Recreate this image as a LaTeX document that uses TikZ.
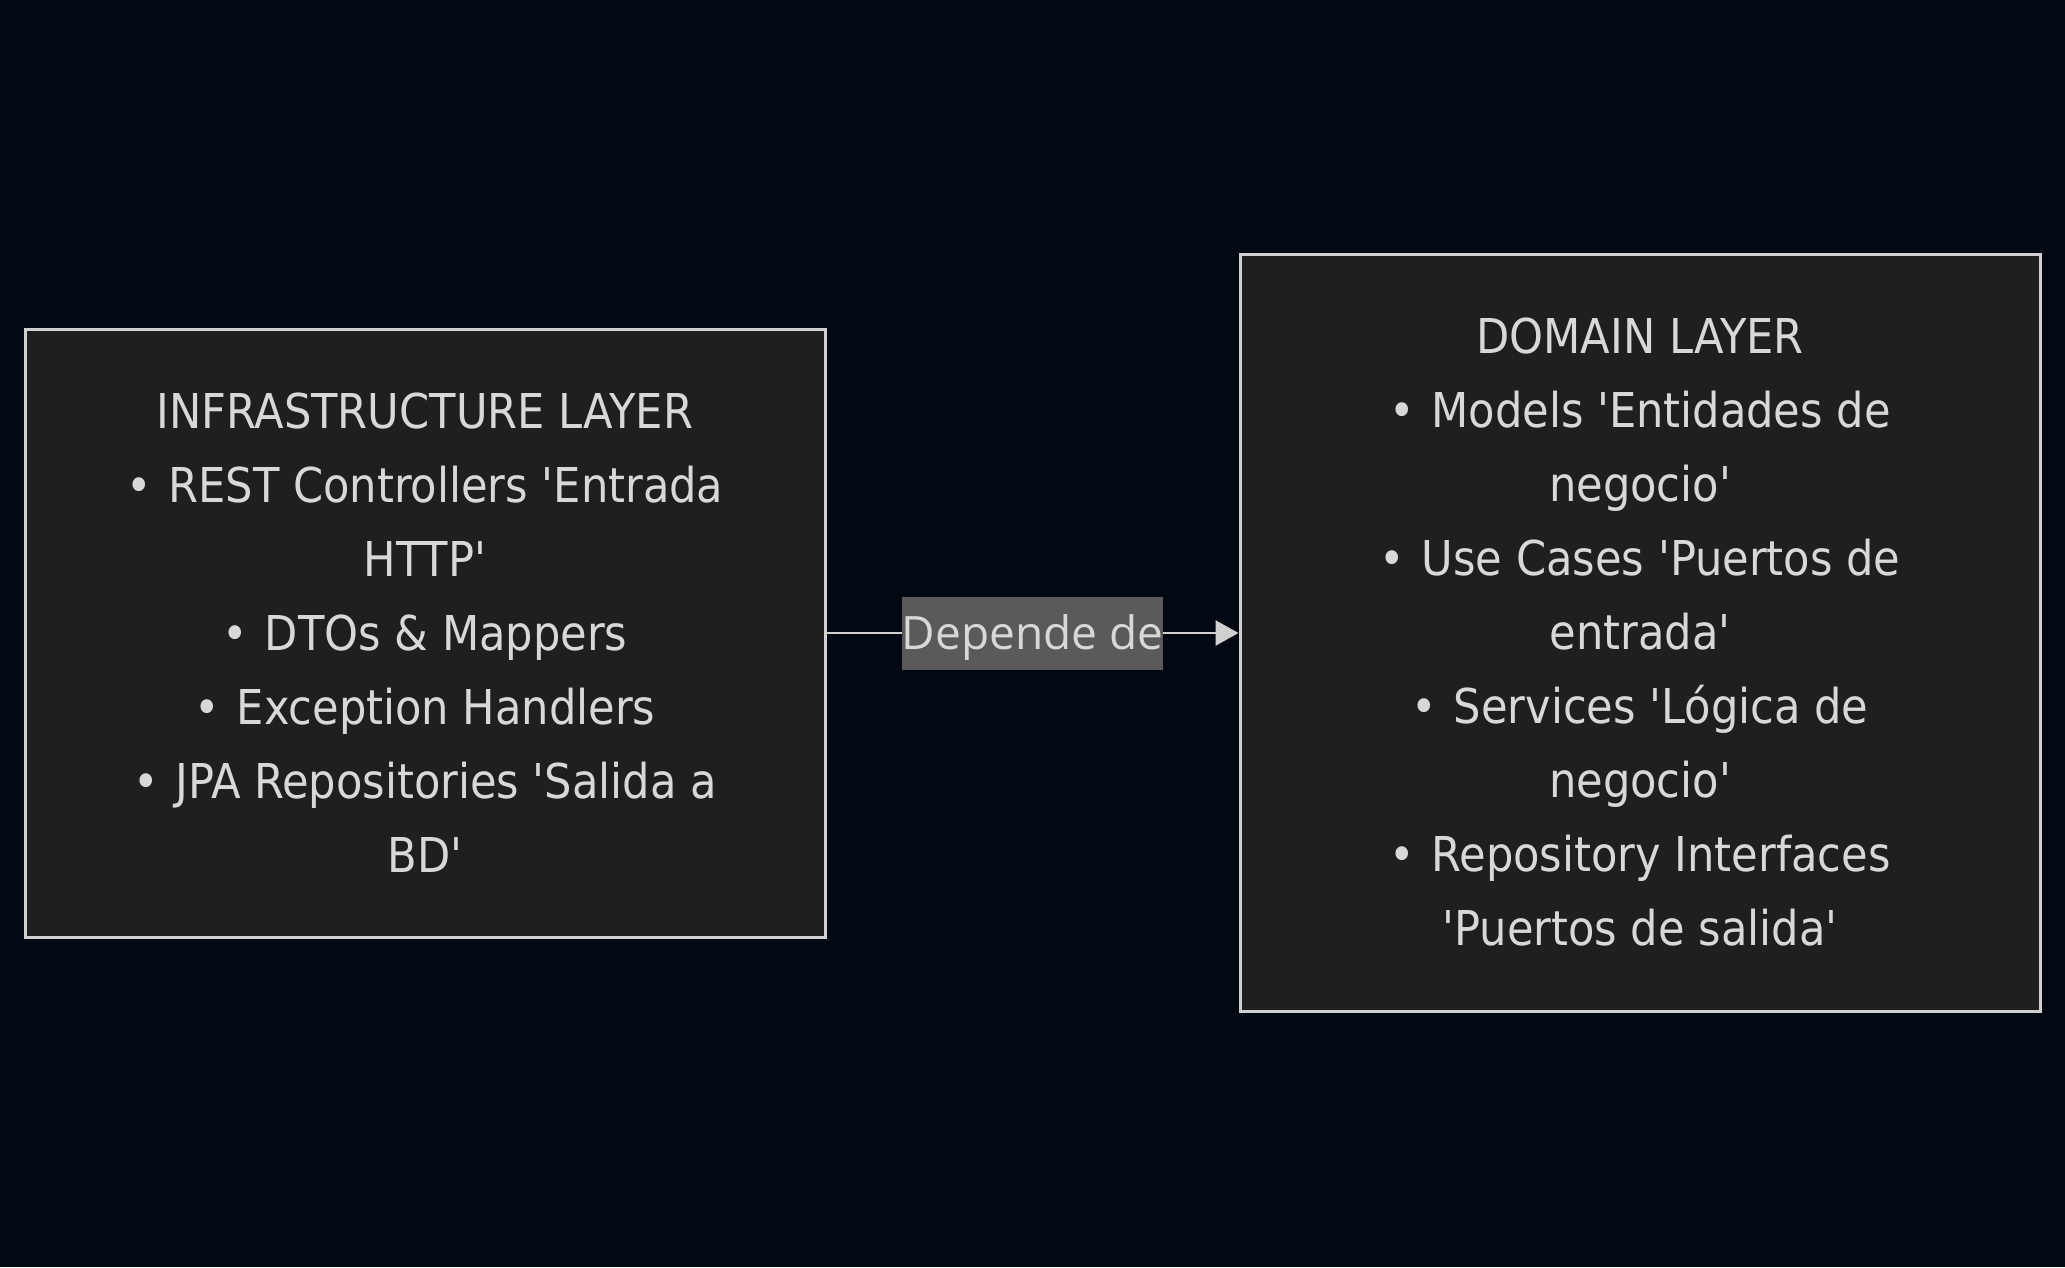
\documentclass[tikz,border=0pt]{standalone}
\usepackage{fontspec}
\usetikzlibrary{arrows.meta}
\newfontfamily\boxfont{DejaVu Sans Condensed}
\newfontfamily\labfont{Open Sans}
\definecolor{bgc}{HTML}{030913}
\definecolor{boxfill}{HTML}{1F1F1F}
\definecolor{bordc}{HTML}{D0D0D0}
\definecolor{txtc}{HTML}{D8D8D8}
\definecolor{labfill}{HTML}{5A5A5A}
\newcommand\sq{\textquotesingle}
\newcommand\bul{•~\hspace{3pt}}
\begin{document}
\begin{tikzpicture}[x=1pt,y=-1pt,
  layerbox/.style={draw=bordc, line width=3pt, fill=boxfill, minimum width=800pt,
    text=txtc, align=center, inner sep=0pt,
    font=\boxfont\fontsize{48}{74}\selectfont},
  edgelab/.style={fill=labfill, text=txtc, inner sep=0pt, minimum width=261pt,
    text height=53pt, text depth=20pt, font=\labfont\fontsize{46}{56}\selectfont},
  conn/.style={draw=bordc, line width=2.5pt, -{Triangle[length=23pt,width=25pt]}}]
\useasboundingbox[fill=bgc] (0,0) rectangle (2065,1267);
\node[layerbox, minimum height=608pt] (L) at (425,633)
  {INFRASTRUCTURE LAYER\\
   \bul REST Controllers \sq Entrada\\
   HTTP\sq\\
   \bul DTOs \& Mappers\\
   \bul Exception Handlers\\
   \bul JPA Repositories \sq Salida a\\
   BD\sq};
\node[layerbox, minimum height=757pt] (R) at (1640,632.5)
  {DOMAIN LAYER\\
   \bul Models \sq Entidades de\\
   negocio\sq\\
   \bul Use Cases \sq Puertos de\\
   entrada\sq\\
   \bul Services \sq Lógica de\\
   negocio\sq\\
   \bul Repository Interfaces\\
   \sq Puertos de salida\sq};
\draw[conn] (L.east) -- node[edgelab] (lab) {Depende de} (L.east -| R.west);
\end{tikzpicture}
\end{document}
